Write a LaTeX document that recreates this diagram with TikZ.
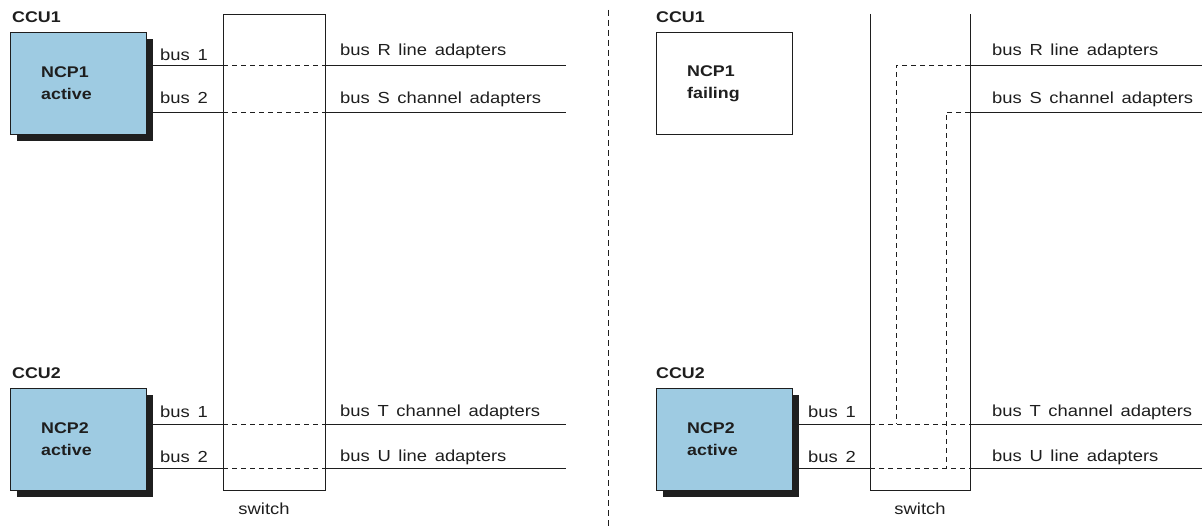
\documentclass[tikz,border=0pt]{standalone}
\usepackage{fontspec}
\setmainfont[FakeStretch=1.15,WordSpace=1.5]{Liberation Sans}
\usetikzlibrary{shadows}
\definecolor{boxblue}{RGB}{158,203,226}
\definecolor{ink}{RGB}{30,30,30}
\begin{document}
\begin{tikzpicture}[x=1pt,y=-1pt,
  ncp/.style={draw=ink,line width=0.9pt,minimum width=136pt,minimum height=102pt,anchor=north west,inner sep=0pt},
  active/.style={ncp,fill=boxblue,drop shadow={shadow xshift=7pt,shadow yshift=-7pt,opacity=1,fill=black!88}},
  failed/.style={ncp,fill=white},
  ncptext/.style={anchor=west,align=left,inner sep=0pt,text=ink,font=\fontsize{15.5}{22}\selectfont\bfseries},
  ccu/.style={anchor=base west,inner sep=0pt,text=ink,font=\fontsize{15.5}{18}\selectfont\bfseries},
  lab/.style={anchor=base west,inner sep=0pt,text=ink,font=\fontsize{16}{19}\selectfont},
  bus/.style={draw=ink,line width=0.9pt},
  link/.style={draw=ink,line width=0.8pt,dash pattern=on 5pt off 4pt},
  swbox/.style={draw=ink,line width=0.9pt,minimum width=102pt,minimum height=476pt,anchor=north west,inner sep=0pt}]
\useasboundingbox (0,0) rectangle (1202,527);

% ---------- left panel ----------
\node[ccu] (ccu1a) at (12,23) {CCU1};
\node[active] (ncp1a) at (10,32) {};
\node[ncptext] (ncp1at) at ([xshift=31pt]ncp1a.west) {NCP1\\active};
\node[ccu] (ccu2a) at (12,378) {CCU2};
\node[active] (ncp2a) at (10,388) {};
\node[ncptext] (ncp2at) at ([xshift=31pt]ncp2a.west) {NCP2\\active};
\node[swbox] (swa) at (223,14) {};
\node[lab,anchor=base] (swat) at (264,514) {switch};

\coordinate (a1s) at (146,65);  \coordinate (a1l) at (223,65);  \coordinate (a1r) at (325,65);  \coordinate (a1e) at (566,65);
\coordinate (a2s) at (146,112); \coordinate (a2l) at (223,112); \coordinate (a2r) at (325,112); \coordinate (a2e) at (566,112);
\coordinate (a3s) at (146,424); \coordinate (a3l) at (223,424); \coordinate (a3r) at (325,424); \coordinate (a3e) at (566,424);
\coordinate (a4s) at (146,468); \coordinate (a4l) at (223,468); \coordinate (a4r) at (325,468); \coordinate (a4e) at (566,468);
\foreach \i in {1,2,3,4}{
  \draw[bus] (a\i s) -- (a\i l);
  \draw[link] (a\i l) -- (a\i r);
  \draw[bus] (a\i r) -- (a\i e);
}
\node[lab] (ab1) at (160,60) {bus 1};
\node[lab] (ab2) at (160,103) {bus 2};
\node[lab] (ab3) at (160,417) {bus 1};
\node[lab] (ab4) at (160,462) {bus 2};
\node[lab] (aR) at (340,56) {bus R line adapters};
\node[lab] (aS) at (340,103) {bus S channel adapters};
\node[lab] (aT) at (340,416) {bus T channel adapters};
\node[lab] (aU) at (340,461) {bus U line adapters};

% ---------- divider ----------
\coordinate (dtop) at (608,10); \coordinate (dbot) at (608,527);
\draw[ink,line width=0.8pt,dash pattern=on 6pt off 4pt] (dtop) -- (dbot);

% ---------- right panel ----------
\node[ccu] (ccu1b) at (656,23) {CCU1};
\node[failed] (ncp1b) at (656,32) {};
\node[ncptext] (ncp1bt) at ([xshift=31pt]ncp1b.west) {NCP1\\failing};
\node[ccu] (ccu2b) at (656,378) {CCU2};
\node[active] (ncp2b) at (656,388) {};
\node[ncptext] (ncp2bt) at ([xshift=31pt]ncp2b.west) {NCP2\\active};

\coordinate (swbtl) at (870,14); \coordinate (swbbl) at (870,490);
\coordinate (swbbr) at (970,490); \coordinate (swbtr) at (970,14);
\draw[bus] (swbtl) -- (swbbl) -- (swbbr) -- (swbtr);
\node[lab,anchor=base] (swbt) at (920,514) {switch};

\coordinate (bRr) at (970,65);  \coordinate (bRe) at (1202,65);
\coordinate (bSr) at (970,112); \coordinate (bSe) at (1202,112);
\coordinate (bRc) at (896,65);  \coordinate (bSc) at (946,112);
\coordinate (b3s) at (792,424); \coordinate (b3l) at (870,424); \coordinate (b3r) at (970,424); \coordinate (b3e) at (1202,424);
\coordinate (b4s) at (792,468); \coordinate (b4l) at (870,468); \coordinate (b4r) at (970,468); \coordinate (b4e) at (1202,468);
\coordinate (b3c) at (896,424); \coordinate (b4c) at (946,468);
\draw[bus] (bRr) -- (bRe);
\draw[bus] (bSr) -- (bSe);
\draw[link] (bRr) -- (bRc) -- (b3c);
\draw[link] (bSr) -- (bSc) -- (b4c);
\foreach \i in {3,4}{
  \draw[bus] (b\i s) -- (b\i l);
  \draw[link] (b\i l) -- (b\i r);
  \draw[bus] (b\i r) -- (b\i e);
}
\node[lab] (bb3) at (808,417) {bus 1};
\node[lab] (bb4) at (808,462) {bus 2};
\node[lab] (bR) at (992,56) {bus R line adapters};
\node[lab] (bS) at (992,103) {bus S channel adapters};
\node[lab] (bT) at (992,416) {bus T channel adapters};
\node[lab] (bU) at (992,461) {bus U line adapters};
\end{tikzpicture}
\end{document}
